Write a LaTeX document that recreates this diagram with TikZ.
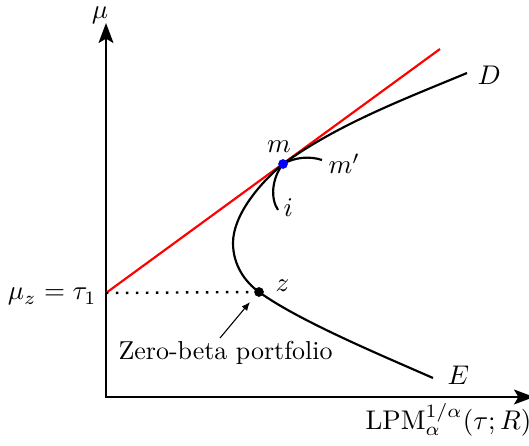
\documentclass[tikz,border=0pt]{standalone}
\usetikzlibrary{arrows.meta}
\begin{document}
\begin{tikzpicture}[x=0.3704pt,y=-0.3704pt,
  axis/.style={line width=0.85pt,{Stealth[length=7.4pt,width=5.5pt,inset=1.6pt]}-{Stealth[length=7.4pt,width=5.5pt,inset=1.6pt]}},
  curve/.style={line width=0.8pt,black},
  tangent/.style={line width=0.8pt,red},
  lbl/.style={inner sep=0pt,font=\fontsize{9.6}{11.5}\selectfont},
  bigl/.style={inner sep=0pt,font=\fontsize{10}{12}\selectfont},
  bdot/.style={circle,fill=black,inner sep=0pt,minimum size=3.6pt},
  mdot/.style={circle,fill=blue,inner sep=0pt,minimum size=3.6pt}]
\useasboundingbox (0,0) rectangle (529,446);
% axes
\coordinate (ytop) at (106,23);
\coordinate (origin) at (106,397);
\coordinate (xend) at (534,397);
\draw[axis] (ytop) -- (origin) -- (xend);
% tangent line
\coordinate (tz) at (106,293);
\coordinate (tend) at (440,49);
\draw[tangent] (tz) -- (tend);
% key points
\coordinate (m) at (283,164);
\coordinate (Dend) at (467,73);
\coordinate (vtx) at (233,243);
\coordinate (zc) at (259,292);
\coordinate (Eend) at (433,378);
% frontier
\draw[curve] (Dend) .. controls (407,98) and (338,124) .. (m)
  .. controls (260,183) and (233,215) .. (vtx)
  .. controls (233,265) and (245,282) .. (zc)
  .. controls (299,321) and (383,356) .. (Eend);
% small curves at m
\coordinate (iend) at (278,210);
\coordinate (mpend) at (322,160);
\draw[curve] (m) .. controls (272,178) and (270,198) .. (iend);
\draw[curve] (m) .. controls (295,157) and (310,156) .. (mpend);
% points
\node[mdot] (mpt) at (m) {};
\node[bdot] (zpt) at (zc) {};
% dotted
\draw[line width=0.9pt,dash pattern=on 0.9pt off 2.8pt] (tz) -- (zpt.west);
% labels
\node[bigl,anchor=base] (mu) at (100,19) {$\mu$};
\node[lbl,anchor=base east] (muz) at (97,300) {$\mu_z=\tau_1$};
\node[bigl,anchor=base] (mlab) at (279,153) {$m$};
\node[bigl,anchor=base west] (mplab) at (328,174) {$m'$};
\node[bigl,anchor=base west] (ilab) at (283,217) {$i$};
\node[bigl,anchor=base west] (zlab) at (275,292) {$z$};
\node[bigl,anchor=base west] (Dlab) at (477,85) {$D$};
\node[bigl,anchor=base west] (Elab) at (447,384) {$E$};
\node[bigl,anchor=base west] (xlab) at (365,429) {$\mathrm{LPM}_\alpha^{1/\alpha}(\tau;R)$};
\node[lbl,anchor=base west] (zb) at (118,360) {Zero-beta portfolio};
% arrow to z
\coordinate (zbtail) at (220,338);
\coordinate (zbhead) at (250,302);
\draw[line width=0.4pt,-{Latex[length=3.2pt,width=2.6pt]}] (zbtail) -- (zbhead);
\end{tikzpicture}
\end{document}
